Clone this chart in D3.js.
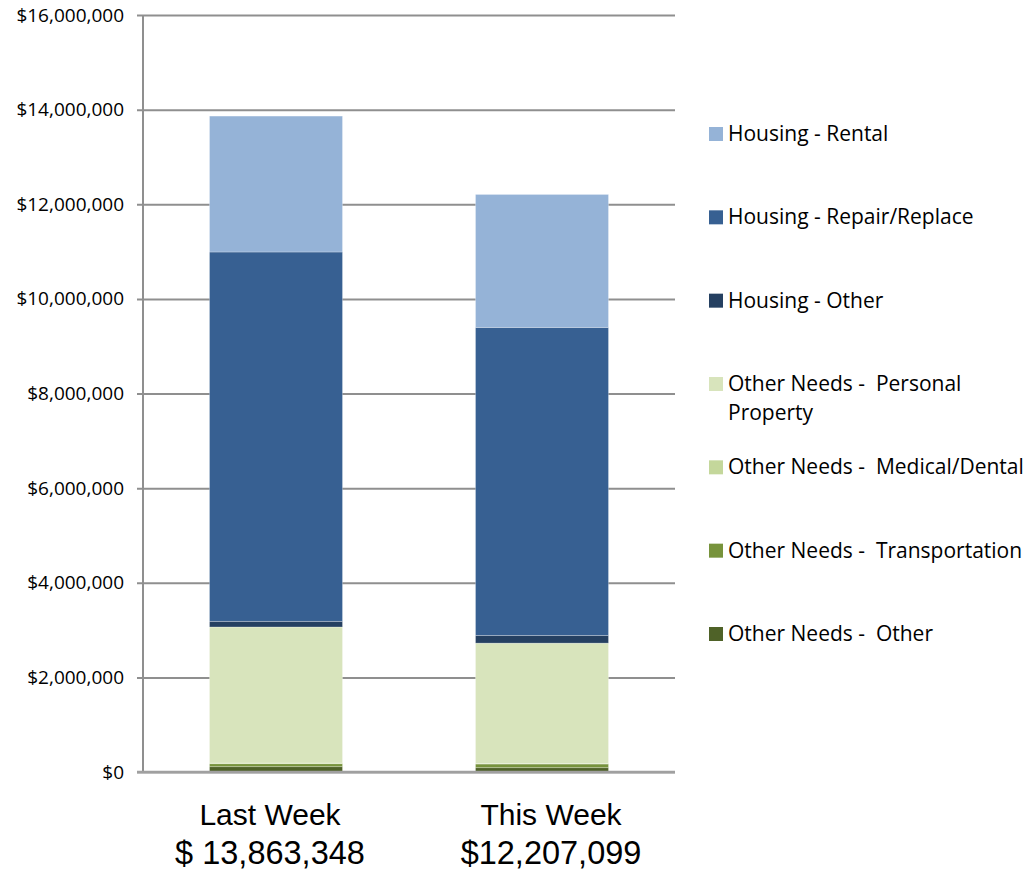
<!DOCTYPE html>
<html>
<head>
<meta charset="utf-8">
<script src="https://d3js.org/d3.v7.min.js"></script>
<style>
  body { margin: 0; background: #fff; }
  text { fill: #000; }
</style>
</head>
<body>
<script>
  // data
  const categories = ["Last Week", "This Week"]
  const totals = ["$ 13,863,348", "$12,207,099"]
  const seriesNames = [
    "Other Needs -  Other",
    "Other Needs -  Transportation",
    "Other Needs -  Medical/Dental",
    "Other Needs -  Personal Property",
    "Housing - Other",
    "Housing - Repair/Replace",
    "Housing - Rental"
  ]
  const otherNeedsOther   = [112000, 91000]
  const transportation    = [63000, 78000]
  const medicalDental     = [15000, 12000]
  const personalProperty  = [2875000, 2543000]
  const housingOther      = [120000, 163000]
  const repairReplace     = [7806000, 6510000]
  const rental            = [2872348, 2810099]
  const colors = ["#4F6228", "#77933C", "#C4D79B", "#D8E4BC", "#254061", "#376092", "#95B3D7"]
  const yTicks = [0, 2000000, 4000000, 6000000, 8000000, 10000000, 12000000, 14000000, 16000000]

  const seriesValues = [otherNeedsOther, transportation, medicalDental, personalProperty, housingOther, repairReplace, rental]

  const rows = categories.map((c, i) => {
    const r = { cat: c }
    seriesNames.forEach((s, j) => r[s] = seriesValues[j][i])
    return r
  })

  const width = 1031, height = 870
  const margin = { top: 15, left: 143, right: 356, bottom: 98 }

  const svg = d3.select("body").append("svg")
    .attr("width", width)
    .attr("height", height)

  const x = d3.scaleBand()
    .domain(categories)
    .range([margin.left, width - margin.right])
    .paddingInner(0.5)
    .paddingOuter(0.25)

  const y = d3.scaleLinear()
    .domain([0, 16000000])
    .range([height - margin.bottom, margin.top])

  const color = d3.scaleOrdinal(seriesNames, colors)

  // grid lines + y labels
  const yAxis = d3.axisLeft(y)
    .tickValues(yTicks)
    .tickFormat(d => "$" + d3.format(",")(d))
    .tickSize(0)

  const gy = svg.append("g")
    .attr("transform", `translate(${margin.left - 6},0)`)
    .call(yAxis)
  gy.select(".domain").remove()
  gy.selectAll(".tick line")
    .attr("x1", 0)
    .attr("x2", width - margin.right - margin.left + 6)
    .attr("stroke", "#8f8f8f")
    .attr("stroke-width", 2)
  gy.selectAll(".tick text")
    .attr("x", -13)
    .style("font-family", "'Open Sans', sans-serif")
    .style("font-size", "19px")
    .attr("fill", "#000")

  // stacked bars
  const stack = d3.stack().keys(seriesNames)(rows)

  svg.append("g")
    .selectAll("g")
    .data(stack)
    .join("g")
      .attr("fill", d => color(d.key))
    .selectAll("rect")
    .data(d => d)
    .join("rect")
      .attr("x", d => x(d.data.cat))
      .attr("width", x.bandwidth())
      .attr("y", d => y(d[1]))
      .attr("height", d => y(d[0]) - y(d[1]))
      .attr("stroke", "rgba(255,255,255,0.35)")
      .attr("stroke-width", 0.75)

  // y axis line and baseline
  svg.append("line")
    .attr("x1", margin.left).attr("x2", margin.left)
    .attr("y1", y(16000000)).attr("y2", y(0))
    .attr("stroke", "#8f8f8f").attr("stroke-width", 2)
  svg.append("line")
    .attr("x1", margin.left - 6).attr("x2", width - margin.right)
    .attr("y1", y(0)).attr("y2", y(0))
    .attr("stroke", "#a0a0a0").attr("stroke-width", 2.5)

  // category labels (text boxes sit a little off the bar centres)
  const labelShift = [-6, 9]
  const catLabels = svg.append("g")
    .style("font-family", "'Liberation Sans', Arial, sans-serif")
    .attr("text-anchor", "middle")
  categories.forEach((c, i) => {
    const cx = x(c) + x.bandwidth() / 2 + labelShift[i]
    catLabels.append("text").attr("x", cx).attr("y", 825)
      .style("font-size", "30px").text(c)
    catLabels.append("text").attr("x", cx).attr("y", 864)
      .style("font-size", "32.5px").text(totals[i])
  })

  // legend (top to bottom is reverse stack order)
  const legendItems = seriesNames.slice().reverse()
  const ly = d3.scalePoint().domain(legendItems).range([134, 634])
  const legend = svg.append("g")
    .style("font-family", "'Open Sans', sans-serif")
    .style("font-size", "21px")
  legendItems.forEach(name => {
    const cy = ly(name)
    legend.append("rect")
      .attr("x", 709).attr("y", cy - 7)
      .attr("width", 14).attr("height", 14)
      .attr("fill", color(name))
    if (name === "Other Needs -  Personal Property") {
      const t = legend.append("text").attr("x", 728).attr("y", cy + 7).attr("xml:space", "preserve")
      t.append("tspan").text("Other Needs -  Personal")
      t.append("tspan").attr("x", 728).attr("dy", 29).text("Property")
    } else {
      legend.append("text")
        .attr("x", 728).attr("y", cy + 7)
        .attr("xml:space", "preserve")
        .text(name)
    }
  })
</script>
</body>
</html>
